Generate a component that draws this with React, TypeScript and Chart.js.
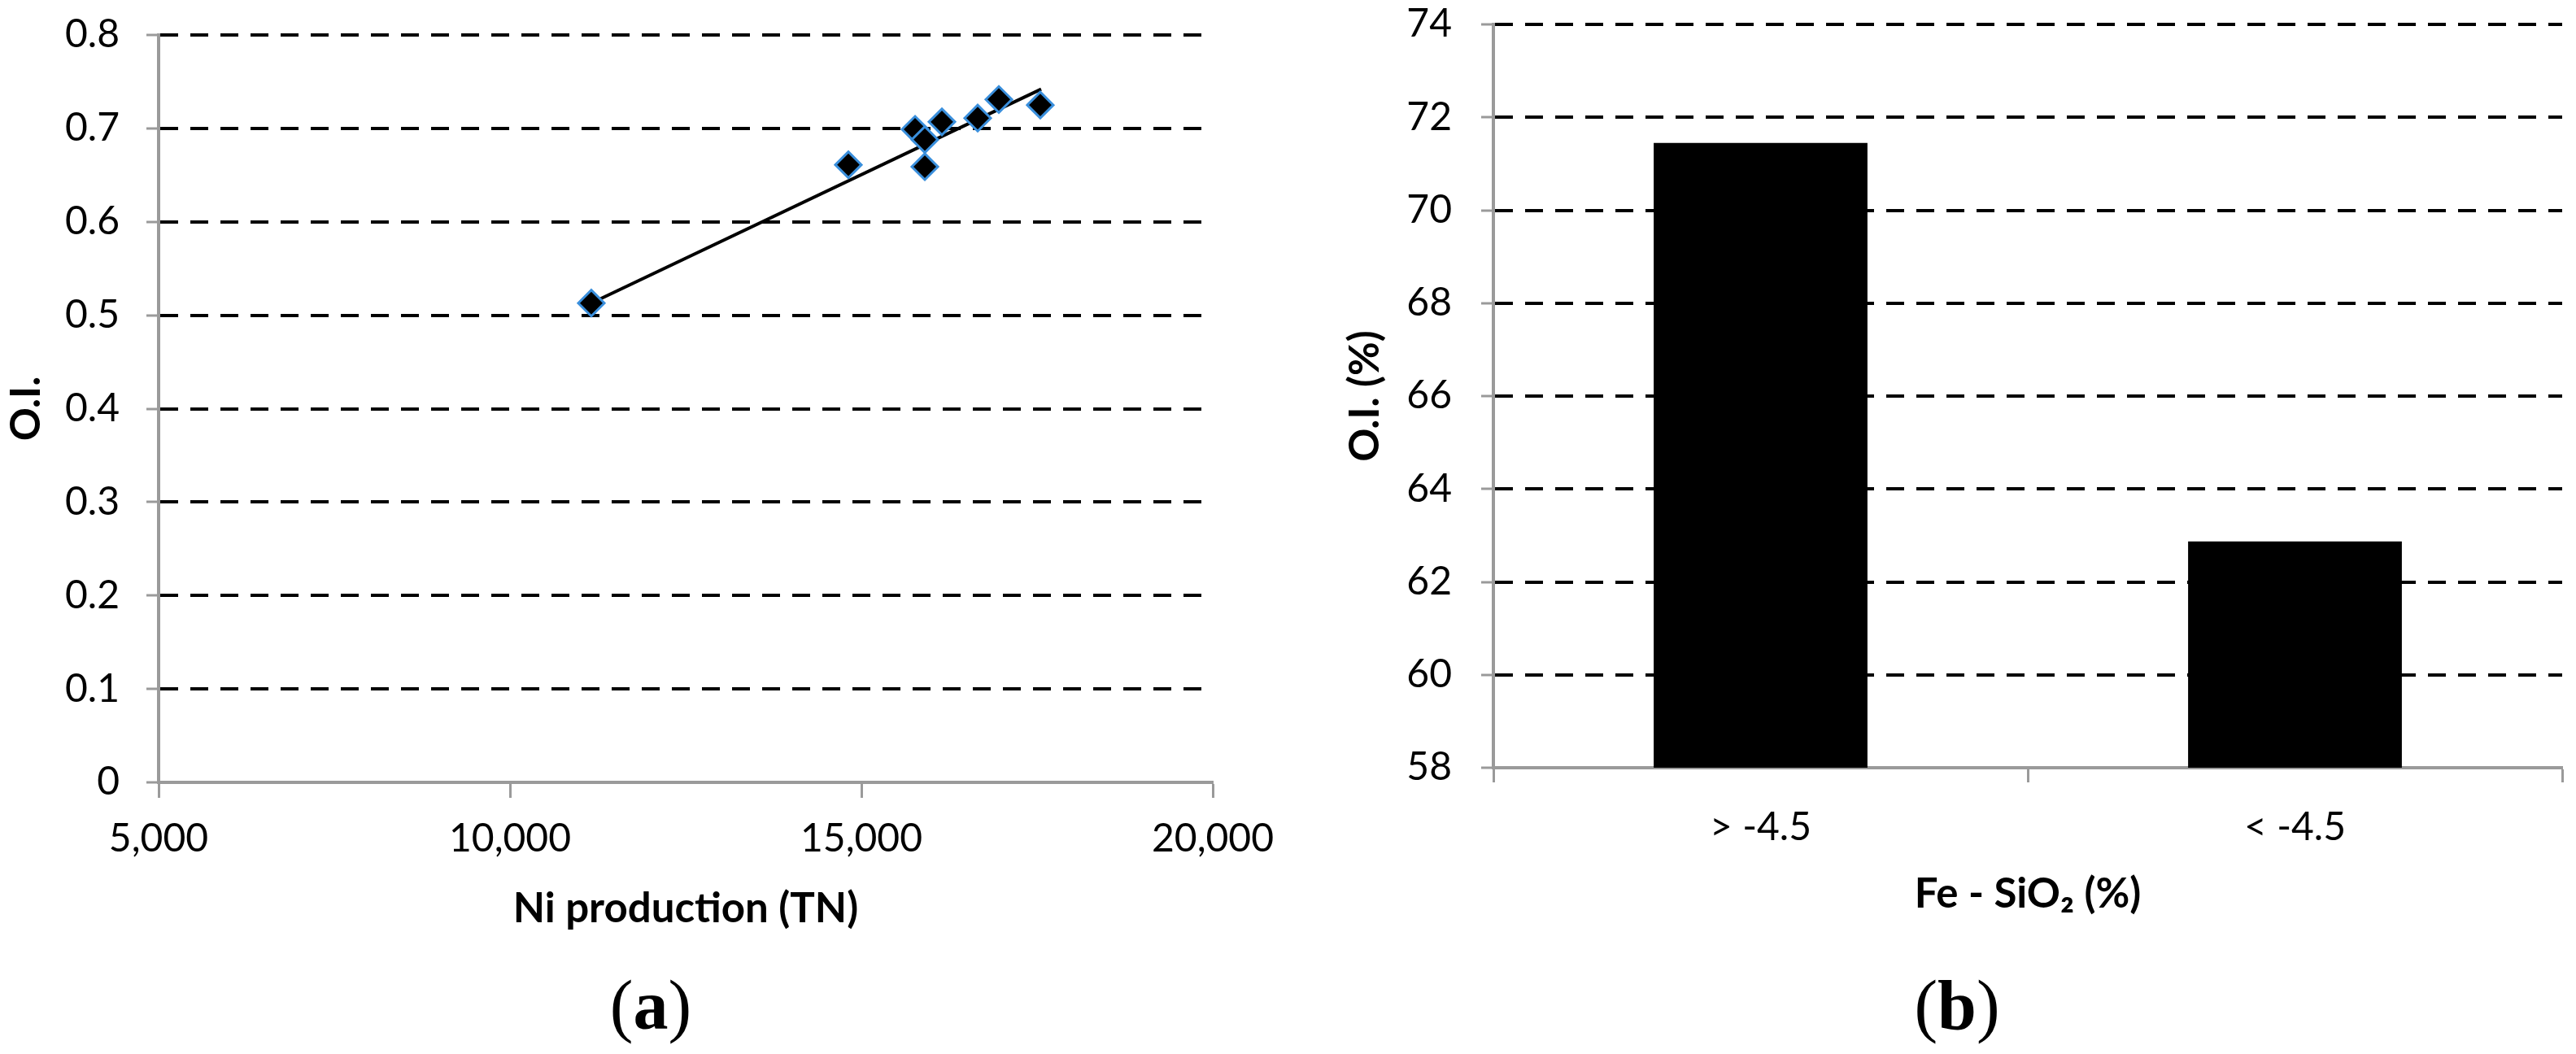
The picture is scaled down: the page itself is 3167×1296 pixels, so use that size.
import React, { useEffect, useRef } from 'react';
import { Chart, registerables } from 'chart.js';

Chart.register(...registerables);

// ---- Panel (a) data ----
const niProduction = [11157, 14815, 15764, 15903, 16146, 15903, 16655, 16956, 17546];
const oiValues = [0.513, 0.661, 0.699, 0.688, 0.707, 0.659, 0.711, 0.731, 0.725];
const trendX = [11157, 17558];
const trendY = [0.513, 0.742];
const xTicksA = [5000, 10000, 15000, 20000];
const yTicksA = [0, 0.1, 0.2, 0.3, 0.4, 0.5, 0.6, 0.7, 0.8];

// ---- Panel (b) data ----
const categoriesB = ['> -4.5', '< -4.5'];
const oiPercentB = [71.45, 62.87];
const yTicksB = [58, 60, 62, 64, 66, 68, 70, 72, 74];

const FONT = 'Lato, Carlito, "Open Sans", sans-serif';
const AXIS_GRAY = '#9a9a9a';

function ChartA() {
  const ref = useRef<HTMLCanvasElement | null>(null);
  useEffect(() => {
    const canvas = ref.current!;
    const chart = new Chart(canvas, {
      type: 'scatter',
      data: {
        datasets: [
          {
            label: 'O.I.',
            data: niProduction.map((x, i) => ({ x, y: oiValues[i] })),
            pointStyle: 'rectRot',
            pointRadius: 16,
            pointBackgroundColor: '#000000',
            pointBorderColor: '#3a8fdc',
            pointBorderWidth: 3,
            showLine: false,
            order: 1,
          },
          {
            type: 'line',
            label: 'trend',
            data: trendX.map((x, i) => ({ x, y: trendY[i] })),
            borderColor: '#000000',
            borderWidth: 4,
            pointRadius: 0,
            showLine: true,
            fill: false,
            order: 2,
          } as any,
        ],
      },
      options: {
        animation: false,
        responsive: false,
        devicePixelRatio: 1,
        layout: { padding: { left: 0, top: 43, right: 109, bottom: 0 } },
        plugins: { legend: { display: false }, tooltip: { enabled: false } },
        scales: {
          x: {
            type: 'linear',
            min: 5000,
            max: 20000,
            afterBuildTicks: (s: any) => { s.ticks = xTicksA.map((v) => ({ value: v })); },
            afterFit: (s: any) => { s.height = 218; s.paddingLeft = 0; s.paddingRight = 0; },
            ticks: {
              font: { family: FONT, size: 48 },
              color: '#000',
              padding: 22,
              maxRotation: 0,
              callback: (v: any) => Number(v).toLocaleString('en-US'),
            },
            grid: {
              drawOnChartArea: false,
              drawTicks: true,
              tickLength: 19,
              tickColor: AXIS_GRAY,
              tickWidth: 3,
            },
            border: { display: true, color: AXIS_GRAY, width: 4 },
            title: {
              display: true,
              text: 'Ni production (TN)',
              font: { family: FONT, size: 51, weight: 'bold' },
              color: '#000',
              padding: { top: 0, bottom: 32 },
            },
          },
          y: {
            type: 'linear',
            min: 0,
            max: 0.8,
            afterBuildTicks: (s: any) => { s.ticks = yTicksA.map((v) => ({ value: v })); },
            afterFit: (s: any) => { s.width = 195; s.paddingTop = 0; s.paddingBottom = 0; },
            ticks: {
              font: { family: FONT, size: 48 },
              color: '#000',
              padding: 33,
              callback: (v: any) => String(Math.round(Number(v) * 10) / 10),
            },
            grid: {
              color: (c: any) => (c.tick && Math.abs(c.tick.value) < 1e-9 ? 'rgba(0,0,0,0)' : '#000000'),
              lineWidth: 4,
              drawTicks: true,
              tickLength: 15,
              tickColor: AXIS_GRAY,
              tickWidth: 3,
            },
            border: { display: true, color: AXIS_GRAY, width: 4, dash: [22, 15] },
            title: {
              display: true,
              text: 'O.I.',
              font: { family: FONT, size: 51, weight: 'bold' },
              color: '#000',
              padding: { top: 2, bottom: 0 },
            },
          },
        },
      },
    } as any);
    return () => chart.destroy();
  }, []);
  return (
    <canvas
      ref={ref}
      width={1600}
      height={1180}
      style={{ position: 'absolute', left: 0, top: 0, width: 1600, height: 1180 }}
    />
  );
}

function ChartB() {
  const ref = useRef<HTMLCanvasElement | null>(null);
  useEffect(() => {
    const canvas = ref.current!;
    const chart = new Chart(canvas, {
      type: 'bar',
      data: {
        labels: categoriesB,
        datasets: [
          {
            label: 'O.I. (%)',
            data: oiPercentB,
            backgroundColor: '#000000',
            borderWidth: 0,
            barPercentage: 0.4,
            categoryPercentage: 1.0,
          },
        ],
      },
      options: {
        animation: false,
        responsive: false,
        devicePixelRatio: 1,
        layout: { padding: { left: 0, top: 30, right: 17, bottom: 0 } },
        plugins: { legend: { display: false }, tooltip: { enabled: false } },
        scales: {
          x: {
            type: 'category',
            afterFit: (s: any) => { s.height = 236; s.paddingLeft = 0; s.paddingRight = 0; },
            ticks: {
              font: { family: FONT, size: 48 },
              color: '#000',
              padding: 27,
              maxRotation: 0,
            },
            grid: {
              offset: true,
              drawOnChartArea: false,
              drawTicks: true,
              tickLength: 18,
              tickColor: AXIS_GRAY,
              tickWidth: 3,
            },
            border: { display: true, color: AXIS_GRAY, width: 4 },
            title: {
              display: true,
              text: 'Fe - SiO\u2082 (%)',
              font: { family: FONT, size: 51, weight: 'bold' },
              color: '#000',
              padding: { top: 0, bottom: 50 },
            },
          },
          y: {
            type: 'linear',
            min: 58,
            max: 74,
            afterBuildTicks: (s: any) => { s.ticks = yTicksB.map((v) => ({ value: v })); },
            afterFit: (s: any) => { s.width = 236; s.paddingTop = 0; s.paddingBottom = 0; },
            ticks: {
              font: { family: FONT, size: 48 },
              color: '#000',
              padding: 36,
            },
            grid: {
              color: (c: any) => (c.tick && c.tick.value === 58 ? 'rgba(0,0,0,0)' : '#000000'),
              lineWidth: 4,
              drawTicks: true,
              tickLength: 15,
              tickColor: AXIS_GRAY,
              tickWidth: 3,
            },
            border: { display: true, color: AXIS_GRAY, width: 4, dash: [22, 15] },
            title: {
              display: true,
              text: 'O.I. (%)',
              font: { family: FONT, size: 51, weight: 'bold' },
              color: '#000',
              padding: { top: 48, bottom: 0 },
            },
          },
        },
      },
    } as any);
    return () => chart.destroy();
  }, []);
  return (
    <canvas
      ref={ref}
      width={1567}
      height={1180}
      style={{ position: 'absolute', left: 1600, top: 0, width: 1567, height: 1180 }}
    />
  );
}

const panelLabel: React.CSSProperties = {
  position: 'absolute',
  fontFamily: '"Liberation Serif", "Times New Roman", serif',
  fontSize: 86,
  lineHeight: '1',
  color: '#000',
  transform: 'translate(-50%, -50%)',
  whiteSpace: 'nowrap',
};

export default function App() {
  useEffect(() => {
    document.body.style.margin = '0';
    document.body.style.background = '#ffffff';
  }, []);
  return (
    <div
      style={{
        position: 'absolute',
        left: 0,
        top: 0,
        width: 3167,
        height: 1296,
        background: '#ffffff',
        overflow: 'hidden',
      }}
    >
      <ChartA />
      <ChartB />
      <div style={{ ...panelLabel, left: 800, top: 1236 }}>
        (<b>a</b>)
      </div>
      <div style={{ ...panelLabel, left: 2406, top: 1236 }}>
        (<b>b</b>)
      </div>
    </div>
  );
}
